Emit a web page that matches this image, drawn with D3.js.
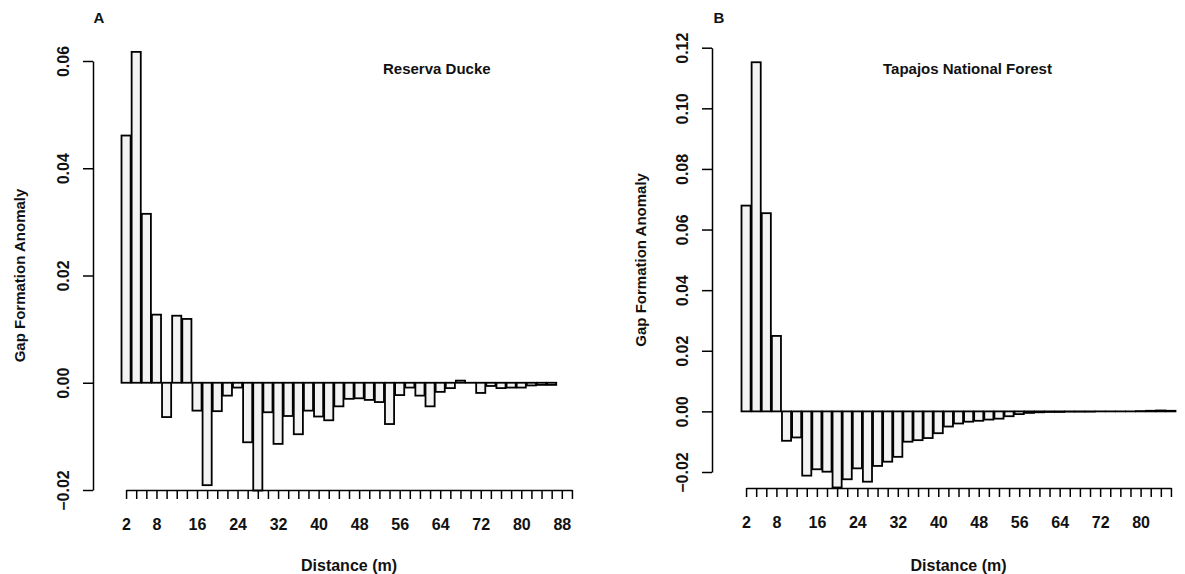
<!DOCTYPE html>
<html>
<head>
  <meta charset="utf-8">
  <script src="https://d3js.org/d3.v7.min.js"></script>
</head>
<style>
  body { margin: 0; background: #fff; }
  text { font-family: "Liberation Sans", Arial, sans-serif; fill: #111; }
</style>
<body>
  <svg width="1185" height="574"></svg>

  <script>
    // Distance classes (m), one bar per class
    const distA = [2,4,6,8,10,12,14,16,18,20,22,24,26,28,30,32,34,36,38,40,42,44,46,48,50,52,54,56,58,60,62,64,66,68,70,72,74,76,78,80,82,84,86,88,90];
    const distB = [2,4,6,8,10,12,14,16,18,20,22,24,26,28,30,32,34,36,38,40,42,44,46,48,50,52,54,56,58,60,62,64,66,68,70,72,74,76,78,80,82,84,86];

    // Gap formation anomaly, Reserva Ducke
    const anomA = [0.0461, 0.0617, 0.0315, 0.0127, -0.0064, 0.0125, 0.0119, -0.0052, -0.0191, -0.0053,
                   -0.0024, -0.0009, -0.0111, -0.0201, -0.0055, -0.0114, -0.0062, -0.0096, -0.0052, -0.0063,
                   -0.0070, -0.0044, -0.0030, -0.0029, -0.0032, -0.0036, -0.0077, -0.0023, -0.0009, -0.0024,
                   -0.0044, -0.0017, -0.0010, 0.0004, 0.0000, -0.0019, -0.0006, -0.0010, -0.0009, -0.0009,
                   -0.0005, -0.0004, -0.0004];

    // Gap formation anomaly, Tapajos National Forest
    const anomB = [0.0679, 0.1152, 0.0654, 0.0249, -0.0097, -0.0086, -0.0212, -0.0191, -0.0199, -0.0251,
                   -0.0224, -0.0188, -0.0232, -0.0180, -0.0166, -0.0150, -0.0100, -0.0095, -0.0088, -0.0072,
                   -0.0050, -0.0040, -0.0034, -0.0031, -0.0027, -0.0024, -0.0016, -0.0009, -0.0005, -0.0003,
                   -0.0002, -0.0002, -0.0001, -0.0001, -0.0001, 0.0000, 0.0000, 0.0000, 0.0000, 0.0001,
                   0.0002, 0.0003, 0.0002];

    const xLabels = [2, 8, 16, 24, 32, 40, 48, 56, 64, 72, 80, 88];
    const yTicksA = [-0.02, 0.00, 0.02, 0.04, 0.06];
    const yTicksB = [-0.02, 0.00, 0.02, 0.04, 0.06, 0.08, 0.10, 0.12];

    const svg = d3.select('svg');

    function panel(cfg) {
      const g = svg.append('g');

      const x = d3.scaleBand()
        .domain(cfg.dist)
        .range(cfg.xRange)
        .paddingInner(0.1)
        .paddingOuter(0.05);

      const y = d3.scaleLinear()
        .domain(cfg.yDomain)
        .range(cfg.yRange);

      // bars (zero bars kept as a thin line like R does)
      const data = cfg.values.map((v, i) => ({d: cfg.dist[i], v: v}));
      g.selectAll('.bar')
        .data(data)
        .enter()
        .append('rect')
        .attr('class', 'bar')
        .attr('x', d => x(d.d))
        .attr('y', d => y(Math.max(0, d.v)))
        .attr('width', x.bandwidth())
        .attr('height', d => Math.max(0.01, Math.abs(y(d.v) - y(0))))
        .attr('fill', '#f3f3f3')
        .attr('stroke', '#000')
        .attr('stroke-width', 1.8);

      // x axis, R style: line from first to last tick
      const xp = d3.scalePoint()
        .domain(cfg.dist)
        .range([x(cfg.dist[0]) + x.bandwidth() / 2, x(cfg.dist[cfg.dist.length - 1]) + x.bandwidth() / 2]);

      const xAxis = g.append('g')
        .attr('transform', `translate(0,${cfg.xAxisY})`)
        .call(d3.axisBottom(xp)
          .tickSize(9)
          .tickSizeOuter(0)
          .tickPadding(20)
          .tickFormat(d => xLabels.includes(d) ? d : ''));
      xAxis.selectAll('path, line').attr('stroke', '#000').attr('stroke-width', 1.5);
      xAxis.selectAll('text')
        .style('font-size', '16px')
        .style('font-weight', 'bold')
        .attr('fill', '#111');

      // y axis with rotated labels
      const yAxis = g.append('g')
        .attr('transform', `translate(${cfg.yAxisX},0)`)
        .call(d3.axisLeft(y)
          .tickValues(cfg.yTicks)
          .tickSize(10)
          .tickSizeOuter(0)
          .tickFormat(d3.format('.2f')));
      yAxis.selectAll('path, line').attr('stroke', '#000').attr('stroke-width', 1.5);
      yAxis.selectAll('text')
        .attr('transform', 'rotate(-90)')
        .attr('x', 0)
        .attr('y', -24)
        .attr('dy', 0)
        .style('text-anchor', 'middle')
        .style('font-size', '16px')
        .style('font-weight', 'bold')
        .attr('fill', '#111');

      // axis titles
      g.append('text')
        .attr('x', (cfg.xRange[0] + cfg.xRange[1]) / 2)
        .attr('y', 571)
        .attr('text-anchor', 'middle')
        .style('font-size', '16px')
        .style('font-weight', 'bold')
        .text('Distance (m)');

      g.append('text')
        .attr('transform', `translate(${cfg.yTitleX},${(cfg.yRange[0] + cfg.yRange[1]) / 2}) rotate(-90)`)
        .attr('text-anchor', 'middle')
        .style('font-size', '15px')
        .style('font-weight', 'bold')
        .text('Gap Formation Anomaly');

      // panel letter and site name
      g.append('text')
        .attr('x', cfg.letterX)
        .attr('y', 23)
        .attr('text-anchor', 'middle')
        .style('font-size', '15px')
        .style('font-weight', 'bold')
        .text(cfg.letter);

      g.append('text')
        .attr('x', cfg.siteX)
        .attr('y', 74)
        .style('font-size', '15px')
        .style('font-weight', 'bold')
        .text(cfg.site);
    }

    panel({
      dist: distA, values: anomA,
      xRange: [121, 577], yDomain: [-0.02, 0.06], yRange: [490, 61],
      yTicks: yTicksA, xAxisY: 490, yAxisX: 93, yTitleX: 25,
      letter: 'A', letterX: 99, site: 'Reserva Ducke', siteX: 383
    });

    panel({
      dist: distB, values: anomB,
      xRange: [741, 1176], yDomain: [-0.02, 0.12], yRange: [472, 47.7],
      yTicks: yTicksB, xAxisY: 488, yAxisX: 712, yTitleX: 646,
      letter: 'B', letterX: 719, site: 'Tapajos National Forest', siteX: 883
    });
  </script>
</body>
</html>
